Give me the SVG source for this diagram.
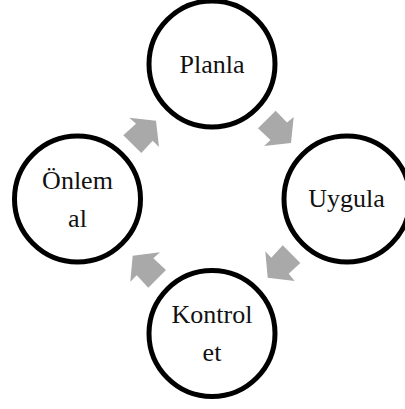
<svg xmlns="http://www.w3.org/2000/svg" width="405" height="409" viewBox="0 0 405 409">
<style>
.n{fill:#fff;stroke:#000;stroke-width:5}
.t{font-family:"Liberation Serif","Times New Roman",serif;font-size:26px;fill:#111;text-anchor:middle}
.a{fill:#a9a9a9}
</style>
<rect width="405" height="409" fill="#fff"/>
<g id="connectors">
<polygon class="a" points="275.7,110.7 287,122.5 293.7,117 291,143 264,146 270.5,140 258,128.3"/>
<polygon class="a" points="282.7,245.3 300.3,263 288.7,273.7 294.7,281 267.7,277.7 265.3,251.3 271.3,257.7"/>
<polygon class="a" points="166,270 148.3,287.7 136.7,275.3 130.3,281.7 132.7,255.7 160,252.3 153.3,258.3"/>
<polygon class="a" points="123.3,135.3 141.3,153 152.7,140.7 159,147 156,120.7 129.3,117.7 136,123.7"/>
</g>
<g id="planla"><circle class="n" cx="212" cy="64" r="63"/><text class="t" x="212" y="73">Planla</text></g>
<g id="uygula"><circle class="n" cx="347" cy="199" r="63"/><text class="t" x="346.5" y="207">Uygula</text></g>
<g id="kontrol"><circle class="n" cx="212" cy="333.5" r="63"/><text class="t" x="212" y="323">Kontrol</text><text class="t" x="212" y="361">et</text></g>
<g id="onlem"><circle class="n" cx="77.5" cy="199" r="63"/><text class="t" x="77.5" y="188.5">Önlem</text><text class="t" x="77.5" y="227">al</text></g>
</svg>
